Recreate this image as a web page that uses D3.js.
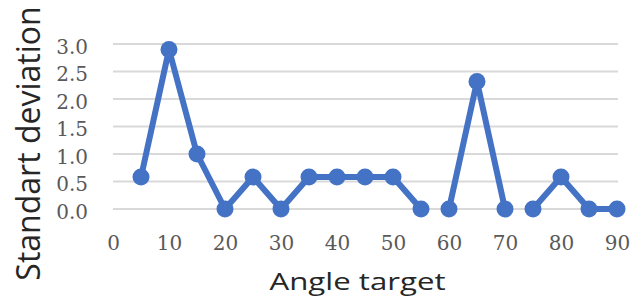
<!DOCTYPE html>
<html>
<head>
<meta charset="utf-8">
<script src="https://cdn.jsdelivr.net/npm/d3@7"></script>
<style>
  body { margin: 0; background: #fff; }
</style>
</head>
<body>
<script>
const width = 639;
const height = 299;

// angles and standard deviations, null = break in the line
const angles = [5, 10, 15, 20, 25, 30, 35, 40, 45, 50, 55, 57.5, 60, 65, 70, 72.5, 75, 80, 85, 90];
const stdDev = [0.58, 2.9, 1.0, 0.0, 0.58, 0.0, 0.58, 0.58, 0.58, 0.58, 0.0, null, 0.0, 2.32, 0.0, null, 0.0, 0.58, 0.0, 0.0];
const xTicks = [0, 10, 20, 30, 40, 50, 60, 70, 80, 90];
const yTicks = [0, 0.5, 1, 1.5, 2, 2.5, 3];

const data = angles.map((a, i) => ({ x: a, y: stdDev[i] }));

const svg = d3.select('body').append('svg')
    .attr('width', width)
    .attr('height', height);

const x = d3.scaleLinear().domain([0, 90]).range([113, 617]);
const y = d3.scaleLinear().domain([0, 3]).range([209, 44]);

const tickFont = '"DejaVu Serif", "Liberation Serif", serif';
const titleFont = '"Open Sans", "Noto Sans", sans-serif';

// grid
svg.append('g')
    .selectAll('line')
    .data(yTicks)
    .enter().append('line')
    .attr('x1', 113).attr('x2', 618)
    .attr('y1', d => y(d)).attr('y2', d => y(d))
    .attr('stroke', '#d9d9d9')
    .attr('stroke-width', 2);

const yAxis = d3.axisLeft(y).tickValues(yTicks).tickSize(0).tickPadding(0)
    .tickFormat(d3.format('.1f'));
svg.append('g')
    .attr('transform', 'translate(88,3)')
    .call(yAxis)
    .call(g => g.select('.domain').remove())
    .selectAll('text')
    .attr('font-family', tickFont)
    .attr('font-size', 20)
    .attr('fill', '#595959');

const xAxis = d3.axisBottom(x).tickValues(xTicks).tickSize(0).tickPadding(0);
svg.append('g')
    .attr('transform', 'translate(0,236)')
    .call(xAxis)
    .call(g => g.select('.domain').remove())
    .selectAll('text')
    .attr('font-family', tickFont)
    .attr('font-size', 20)
    .attr('fill', '#595959');

const line = d3.line()
    .defined(d => d.y !== null)
    .x(d => x(d.x))
    .y(d => y(d.y));

svg.append('path')
    .datum(data)
    .attr('d', line)
    .attr('fill', 'none')
    .attr('stroke', '#4472c4')
    .attr('stroke-width', 6)
    .attr('stroke-linejoin', 'round');

svg.append('g')
    .selectAll('circle')
    .data(data.filter(d => d.y !== null))
    .enter().append('circle')
    .attr('cx', d => x(d.x))
    .attr('cy', d => y(d.y))
    .attr('r', 8.5)
    .attr('fill', '#4472c4');

svg.append('text')
    .attr('transform', 'translate(40,143.5) rotate(-90)')
    .attr('text-anchor', 'middle')
    .attr('font-family', titleFont)
    .attr('font-size', 32)
    .attr('fill', '#262626')
    .text('Standart deviation');

svg.append('text')
    .attr('transform', 'translate(357.5,290) scale(1.3,1)')
    .attr('text-anchor', 'middle')
    .attr('font-family', titleFont)
    .attr('font-size', 24)
    .attr('fill', '#262626')
    .text('Angle target');
</script>
</body>
</html>
